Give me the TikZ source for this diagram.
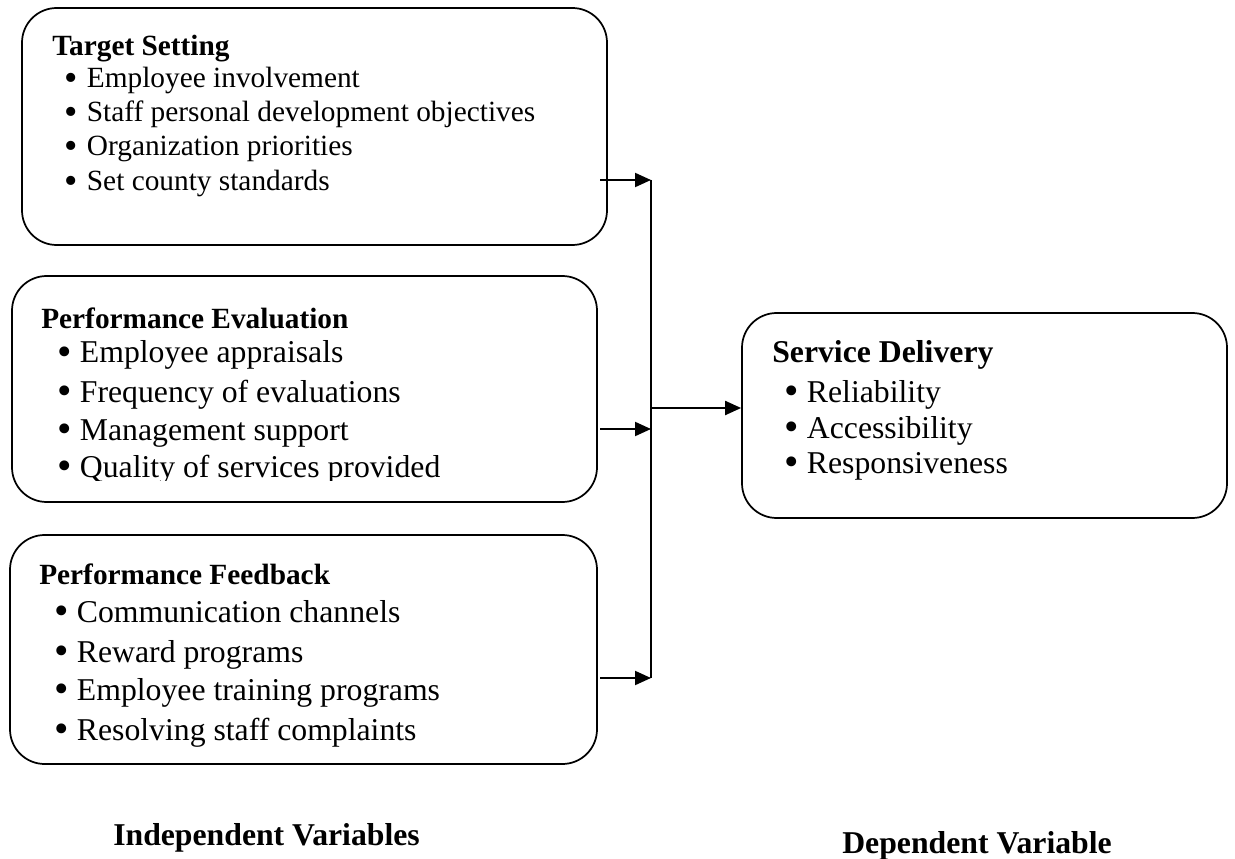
\documentclass[tikz,border=0pt]{standalone}
\usepackage{fontspec}
\setmainfont{Liberation Serif}
\usetikzlibrary{arrows.meta,fit}

\newcommand{\itembul}{\makebox[17pt][l]{\raisebox{-0.07em}{\scalebox{1.3}{\textbullet}}}}

\begin{document}
\begin{tikzpicture}[x=0.75pt,y=-0.75pt,
	box/.style={draw, line width=1.3pt, rounded corners=26pt, inner sep=0pt},
	head/.style={anchor=base west, inner sep=0pt, font=\bfseries\fontsize{22}{26}\selectfont},
	smallitem/.style={anchor=base west, inner sep=0pt, font=\fontsize{22}{26}\selectfont},
	bighead/.style={anchor=base west, inner sep=0pt, font=\bfseries\fontsize{23.8}{28}\selectfont},
	item/.style={anchor=base west, inner sep=0pt, font=\fontsize{23.8}{28}\selectfont},
	link/.style={line width=1.5pt},
	arr/.style={line width=1.5pt, -{Triangle[length=12pt,width=10.5pt]}}]
	
	\useasboundingbox (0,0) rectangle (1235,859);
	
	
	\node[box, fit={(22,8) (607,245)}] (ts) {};
	\node[box, fit={(12,276) (597,502)}] (pe) {};
	\node[box, fit={(10,535) (597,764)}] (pf) {};
	\node[box, fit={(742,313) (1227,518)}] (sd) {};
	
	
	\node[head] (ts0) at (52,56) {Target Setting};
	\node[smallitem] (ts1) at (64,88) {\itembul Employee involvement};
	\node[smallitem] (ts2) at (64,122) {\itembul Staff personal development objectives};
	\node[smallitem] (ts3) at (64,156) {\itembul Organization priorities};
	\node[smallitem] (ts4) at (64,191) {\itembul Set county standards};
	
	\node[head] (pe0) at (41,329) {Performance Evaluation};
	\node[item] (pe1) at (57,363) {\itembul Employee appraisals};
	\node[item] (pe2) at (57,402) {\itembul Frequency of evaluations};
	\node[item] (pe3) at (57,440) {\itembul Management support};
	\begin{scope}
		\clip (0,0) rectangle (1235,480);
		\node[item] (pe4) at (57,477) {\itembul Quality of services provided};
	\end{scope}
	
	\node[head] (pf0) at (39,584) {Performance Feedback};
	\node[item] (pf1) at (54,622) {\itembul Communication channels};
	\node[item] (pf2) at (54,662) {\itembul Reward programs};
	\node[item] (pf3) at (54,700) {\itembul Employee training programs};
	\node[item] (pf4) at (54,740) {\itembul Resolving staff complaints};
	
	\node[bighead] (sd0) at (772,363) {Service Delivery};
	\node[item] (sd1) at (784,402) {\itembul Reliability};
	\node[item] (sd2) at (784,438) {\itembul Accessibility};
	\node[item] (sd3) at (784,473) {\itembul Responsiveness};
	
	
	\node[bighead] (iv) at (113,845) {Independent Variables};
	\node[bighead] (dv) at (842,853) {Dependent Variable};
	
	
	\coordinate (s1) at (600,180);
	\coordinate (s2) at (600,429);
	\coordinate (s3) at (600,678);
	\coordinate (j1) at (651,180);
	\coordinate (j2) at (651,429);
	\coordinate (j3) at (651,678);
	\coordinate (jm) at (651,408);
	
	\draw[arr] (s1) -- (j1);
	\draw[arr] (s2) -- (j2);
	\draw[arr] (s3) -- (j3);
	
	\draw[link] (j1) -- (j3);
	
	\draw[arr] (jm) -- (sd.west |- jm);
	
\end{tikzpicture}
\end{document}
